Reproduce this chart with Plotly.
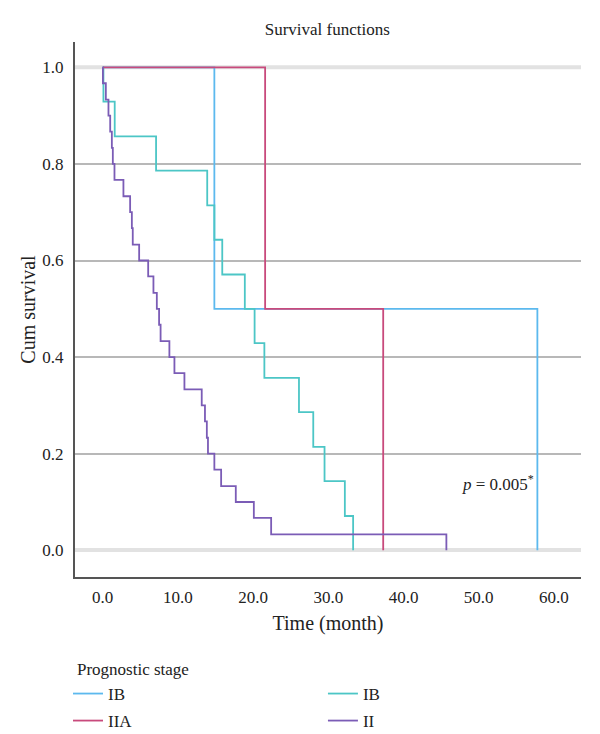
import plotly.graph_objects as go

# ---- data ----
ib_blue_time = [0, 14.85, 57.8]
ib_blue_surv = [1.0, 0.5, 0.0]

ib_teal_time = [0, 0.1, 1.6, 7.1, 13.9, 14.85, 15.9, 18.9, 20.2, 21.5, 26.1, 28.0, 29.5, 32.2, 33.3]
ib_teal_surv = [1.0, 0.929, 0.857, 0.786, 0.714, 0.643, 0.571, 0.5, 0.429, 0.357, 0.286, 0.214, 0.143, 0.071, 0.0]

iia_time = [0, 21.6, 37.3]
iia_surv = [1.0, 0.5, 0.0]

ii_time = [0, 0.03, 0.42, 0.77, 1.0, 1.22, 1.35, 1.57, 2.76, 3.65, 3.88, 4.0, 4.85, 6.05, 6.75, 7.2,
           7.5, 7.7, 8.87, 9.54, 10.87, 13.17, 13.6, 13.85, 14.0, 14.85, 15.75, 17.7, 20.1, 22.4, 45.7]
ii_surv = [1.0, 0.967, 0.933, 0.9, 0.867, 0.833, 0.8, 0.767, 0.733, 0.7, 0.667, 0.633, 0.6, 0.567, 0.533, 0.5,
           0.467, 0.433, 0.4, 0.367, 0.333, 0.3, 0.267, 0.233, 0.2, 0.167, 0.133, 0.1, 0.067, 0.033, 0.0]

x_ticks = [0, 10, 20, 30, 40, 50, 60]
y_ticks = [0.0, 0.2, 0.4, 0.6, 0.8, 1.0]
y_grid = [0.2, 0.4, 0.6, 0.8]

FONT = "Liberation Serif"
FS = 17
TXT = "#222"

# name, times, survival, colour, legend id, legend x (paper), legend y (paper)
series = [
    ("IB", ib_blue_time, ib_blue_surv, "#5cb9ee", "legend", -0.0138, -0.2187),
    ("IB", ib_teal_time, ib_teal_surv, "#4cc6c6", "legend2", 0.490, -0.2187),
    ("IIA", iia_time, iia_surv, "#c84a7c", "legend3", -0.0138, -0.2692),
    ("II", ii_time, ii_surv, "#7b5cb6", "legend4", 0.490, -0.2692),
]

fig = go.Figure()
legend_cfg = {}
for name, t, s, c, lg, lx, ly in series:
    fig.add_trace(go.Scatter(x=t, y=s, mode="lines", name=name, legend=lg,
                             line=dict(shape="hv", color=c, width=1.8)))
    legend_cfg[lg] = dict(x=lx, xanchor="left", y=ly, yanchor="middle",
                          orientation="v", itemwidth=30,
                          font=dict(family=FONT, size=FS, color=TXT),
                          bgcolor="rgba(0,0,0,0)")

fig.add_hline(y=1.0, line=dict(color="#e2e2e2", width=4), layer="below")

fig.add_annotation(x=57.6, y=0.14, xref="x", yref="y", xanchor="right", yanchor="middle",
                   text="<i>p</i> = 0.005<sup>*</sup>", showarrow=False,
                   font=dict(family=FONT, size=FS, color=TXT))

fig.add_annotation(x=0, y=-0.172, xref="paper", yref="paper", xanchor="left", yanchor="middle",
                   text="Prognostic stage", showarrow=False,
                   font=dict(family=FONT, size=FS, color=TXT))

fig.update_layout(
    width=600, height=734,
    margin=dict(l=75, r=19, t=42, b=157, autoexpand=False),
    paper_bgcolor="white", plot_bgcolor="white",
    font=dict(family=FONT, size=FS, color=TXT),
    title=dict(text="Survival functions", x=0.5455, xanchor="center", y=1 - 29 / 734, yanchor="middle",
               font=dict(family=FONT, size=FS, color=TXT)),
    showlegend=True,
    **legend_cfg,
)

fig.update_xaxes(range=[-3.68, 63.6], tickvals=x_ticks, tickformat=".1f",
                 showgrid=False, zeroline=False, showline=True, linecolor="#555", linewidth=2,
                 ticks="", ticklabelstandoff=4,
                 title=dict(text="Time (month)", standoff=10))
fig.update_yaxes(range=[-0.0553, 1.0524], tickvals=y_ticks, tickformat=".1f",
                 showgrid=False,
                 minor=dict(tickvals=y_grid, showgrid=True, gridcolor="#b8b8b8", gridwidth=2, ticks=""),
                 zeroline=True, zerolinecolor="#e2e2e2", zerolinewidth=4,
                 showline=True, linecolor="#555", linewidth=2,
                 ticks="", ticklabelstandoff=6,
                 title=dict(text="Cum survival", standoff=1))

fig.write_html("out.html")
